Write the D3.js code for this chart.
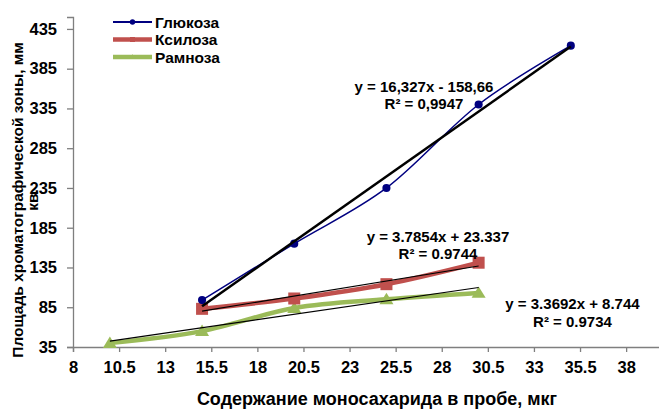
<!DOCTYPE html>
<html><head><meta charset="utf-8">
<script src="https://cdn.jsdelivr.net/npm/d3@7"></script>
<style>body{margin:0;background:#fff}text{font-family:"Liberation Sans",Arial,sans-serif;font-weight:bold;fill:#000}</style>
</head><body><svg id="c" width="659" height="410"></svg>
<script>
const xTicks = [8, 10.5, 13, 15.5, 18, 20.5, 23, 25.5, 28, 30.5, 33, 35.5, 38];
const yTicks = [35, 85, 135, 185, 235, 285, 335, 385, 435];
const glucoseX = [15, 20, 25, 30, 35];
const glucoseY = [94, 165, 235, 340, 414];
const xyloseX = [15, 20, 25, 30];
const xyloseY = [83, 96, 114, 141];
const rhamnoseX = [10, 15, 20, 25, 30];
const rhamnoseY = [40, 55, 84, 95, 103];
const seriesNames = ["Глюкоза", "Ксилоза", "Рамноза"];
const trendSlope = [16.327, 3.7854, 3.3692];
const trendIntercept = [-158.66, 23.337, 8.744];
const eqText = [["y = 16,327x - 158,66", "R² = 0,9947"], ["y = 3.7854x + 23.337", "R² = 0.9744"], ["y = 3.3692x + 8.744", "R² = 0.9734"]];

const svg = d3.select("#c");
const x = d3.scaleLinear().domain([8, 40]).range([73, 663]);
const y = d3.scaleLinear().domain([35, 450]).range([347, 17]);

// axes
const xAxis = svg.append("g").attr("transform", "translate(0,347)")
  .call(d3.axisBottom(x).tickValues(xTicks).tickSize(5).tickPadding(6).tickFormat(d => String(d)));
const yAxis = svg.append("g").attr("transform", "translate(73,0)")
  .call(d3.axisLeft(y).tickValues(yTicks).tickSize(6).tickPadding(10).tickFormat(d => String(d)));
[xAxis, yAxis].forEach(a => {
  a.select(".domain").attr("stroke", "#7f7f7f").attr("stroke-width", 1.3);
  a.selectAll(".tick line").attr("stroke", "#7f7f7f").attr("stroke-width", 1.3);
  a.selectAll(".tick text").style("font-size", "16.5px").style("font-weight", "bold").attr("fill", "#000");
});
xAxis.selectAll(".tick text").attr("dy", "0.9em");

const series = [
  {name: seriesNames[0], xs: glucoseX, ys: glucoseY, color: "#000080", w: 1.5, marker: "circle"},
  {name: seriesNames[1], xs: xyloseX, ys: xyloseY, color: "#C0504D", w: 4.5, marker: "square"},
  {name: seriesNames[2], xs: rhamnoseX, ys: rhamnoseY, color: "#9BBB59", w: 4.5, marker: "triangle"}
];
const line = d3.line().x(d => x(d[0])).y(d => y(d[1])).curve(d3.curveCatmullRom.alpha(0));

function drawMarker(g, type, cx, cy, color, s) {
  if (type === "circle") g.append("circle").attr("cx", cx).attr("cy", cy).attr("r", s * 0.45).attr("fill", color);
  else if (type === "square") g.append("rect").attr("x", cx - s / 2).attr("y", cy - s / 2).attr("width", s).attr("height", s).attr("fill", color);
  else {
    const h = s * 0.9;
    g.append("path").attr("d", `M${cx},${cy - h * 0.6}L${cx + s / 2 + 1},${cy + h * 0.45}L${cx - s / 2 - 1},${cy + h * 0.45}Z`).attr("fill", color);
  }
}

// series lines & markers
series.slice().reverse().forEach(s => {
  const pts = s.xs.map((v, i) => [v, s.ys[i]]);
  const g = svg.append("g");
  g.append("path").attr("d", line(pts)).attr("fill", "none").attr("stroke", s.color).attr("stroke-width", s.w);
  pts.forEach(p => drawMarker(g, s.marker, x(p[0]), y(p[1]), s.color, s.marker === "circle" ? 9 : 12));
});

// trend lines
series.forEach((s, i) => {
  const x0 = d3.min(s.xs), x1 = d3.max(s.xs);
  svg.append("line")
    .attr("x1", x(x0)).attr("y1", y(trendSlope[i] * x0 + trendIntercept[i]))
    .attr("x2", x(x1)).attr("y2", y(trendSlope[i] * x1 + trendIntercept[i]))
    .attr("stroke", "#000").attr("stroke-width", i === 0 ? 2.5 : 1.1);
});

// equations
const eqPos = [[424, 92, 109], [438, 241.5, 258.5], [572.5, 308.5, 326.5]];
eqText.forEach((t, i) => {
  t.forEach((str, j) => {
    svg.append("text").attr("x", eqPos[i][0]).attr("y", eqPos[i][1 + j])
      .attr("text-anchor", "middle").style("font-size", "15px").text(str);
  });
});

// legend
series.forEach((s, i) => {
  const ly = 22 + i * 17.5;
  const g = svg.append("g");
  g.append("line").attr("x1", 113).attr("x2", 152).attr("y1", ly).attr("y2", ly)
    .attr("stroke", s.color).attr("stroke-width", i === 0 ? 2 : 4.5);
  drawMarker(g, s.marker, 132.5, ly, s.color, i === 0 ? 6 : 5);
  g.append("text").attr("x", 155).attr("y", ly + 5.5).style("font-size", "15.5px").text(s.name);
});

// axis titles
svg.append("text").attr("x", 377).attr("y", 405).attr("text-anchor", "middle")
  .style("font-size", "18px").text("Содержание моносахарида в пробе, мкг");
const yt = svg.append("text").attr("transform", "translate(23,200) rotate(-90)").attr("text-anchor", "middle")
  .style("font-size", "15.5px");
yt.append("tspan").attr("x", 0).attr("y", 0).text("Площадь хроматографической зоны, мм");
yt.append("tspan").attr("x", 0).attr("y", 15).text("кв.");
</script></body></html>
